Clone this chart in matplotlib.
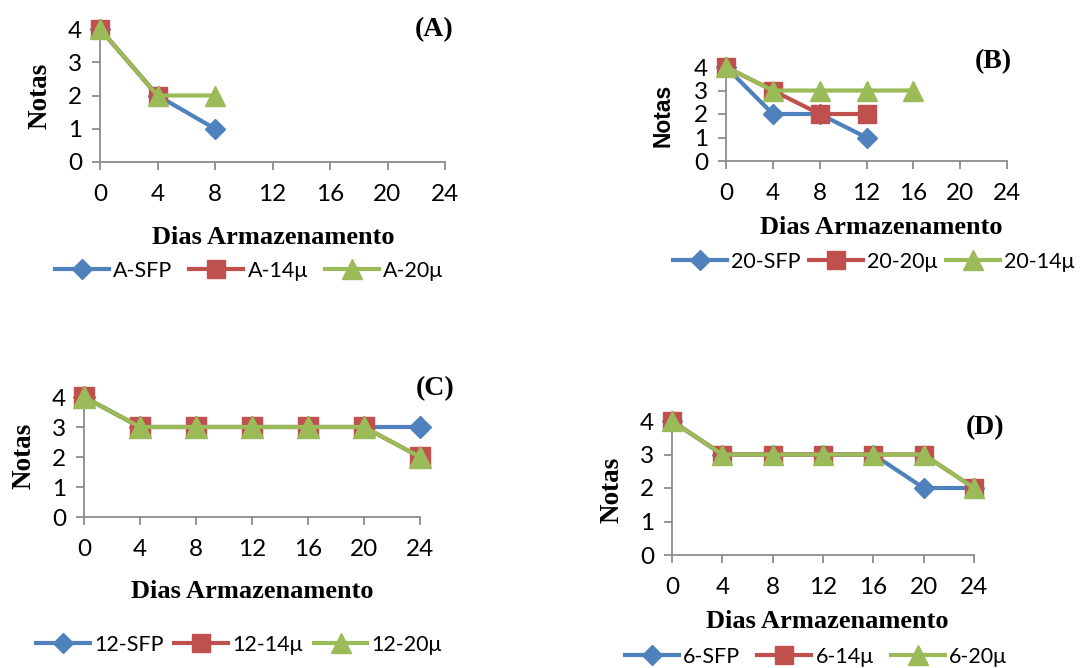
import matplotlib
matplotlib.use("Agg")
import matplotlib.pyplot as plt

# --- dados ---
dias = [0, 4, 8, 12, 16, 20, 24]

a_rotulos = ["A-SFP", "A-14μ", "A-20μ"]
a_sfp = [4, 2, 1]
a_14 = [4, 2]
a_20 = [4, 2, 2]

b_rotulos = ["20-SFP", "20-20μ", "20-14μ"]
b_sfp = [4, 2, 2, 1]
b_20 = [4, 3, 2, 2]
b_14 = [4, 3, 3, 3, 3]

c_rotulos = ["12-SFP", "12-14μ", "12-20μ"]
c_sfp = [4, 3, 3, 3, 3, 3, 3]
c_14 = [4, 3, 3, 3, 3, 3, 2]
c_20 = [4, 3, 3, 3, 3, 3, 2]

d_rotulos = ["6-SFP", "6-14μ", "6-20μ"]
d_sfp = [4, 3, 3, 3, 3, 2, 2]
d_14 = [4, 3, 3, 3, 3, 3, 2]
d_20 = [4, 3, 3, 3, 3, 3, 2]

cores = ["#4F81BD", "#C0504D", "#9BBB59"]
marcadores = ["D", "s", "^"]
tam_marc = [10, 13, 14]

W, H = 1082, 668
fig = plt.figure(figsize=(W / 100, H / 100), dpi=100)

SERIF = "Liberation Serif"
SANS = "Lato"


def fx(px):
    return px / W


def fy(py):
    return 1 - py / H


def painel(box, series, rotulos, letra, letra_xy, xlab_xy, ylab_xy, leg_xy,
           ylab_sans=False, escala=1.0, esp_col=0.8):
    x0, y0, x1, y1 = box  # pixels: x do 0, y do 0, x do 24, y do 4
    ax = fig.add_axes([fx(x0), fy(y0), fx(x1 - x0), (y0 - y1) / H])
    for i, (serie, rot) in enumerate(zip(series, rotulos)):
        ax.plot(dias[:len(serie)], serie, color=cores[i], lw=3,
                marker=marcadores[i], ms=tam_marc[i] * escala, label=rot,
                clip_on=False, zorder=3 + i)
    ax.set_xlim(0, 24)
    ax.set_ylim(0, 4)
    ax.set_xticks(dias)
    ax.set_yticks([0, 1, 2, 3, 4])
    for s in ["top", "right"]:
        ax.spines[s].set_visible(False)
    for s in ["left", "bottom"]:
        ax.spines[s].set_color("#8C8C8C")
        ax.spines[s].set_linewidth(1.3)
    ax.tick_params(axis="both", colors="#8C8C8C", width=1.3, length=6,
                   labelcolor="black", labelsize=17.5)
    ax.tick_params(axis="x", pad=10)
    ax.tick_params(axis="y", pad=7)
    for t in ax.get_xticklabels() + ax.get_yticklabels():
        t.set_fontfamily(SANS)

    fig.text(fx(letra_xy[0]), fy(letra_xy[1]), letra, family=SERIF,
             weight="bold", fontsize=20, ha="center", va="center")
    fig.text(fx(xlab_xy[0]), fy(xlab_xy[1]), "Dias Armazenamento",
             family=SERIF, weight="bold", fontsize=19, ha="center",
             va="center")
    if ylab_sans:
        fig.text(fx(ylab_xy[0]), fy(ylab_xy[1]), "Notas", family="Liberation Sans",
                 weight="bold", fontsize=16.5, ha="center", va="center",
                 rotation=90)
    else:
        fig.text(fx(ylab_xy[0]), fy(ylab_xy[1]), "Notas", family=SERIF,
                 weight="bold", fontsize=19.5, ha="center", va="center",
                 rotation=90)
    leg = fig.legend(*ax.get_legend_handles_labels(), loc="center",
                     bbox_to_anchor=(fx(leg_xy[0]), fy(leg_xy[1])), ncol=3,
                     frameon=False, numpoints=1, handlelength=2.5,
                     handletextpad=0.2, columnspacing=esp_col,
                     prop={"family": SANS, "size": 15.5})
    for h in leg.legend_handles:
        h.set_markersize(h.get_markersize() / escala)
    return ax


painel((100, 162, 445, 29), [a_sfp, a_14, a_20], a_rotulos, "(A)",
       (434, 30), (273, 237), (40, 96), (249, 271))
painel((726, 161, 1007, 67), [b_sfp, b_20, b_14], b_rotulos, "(B)",
       (993, 62), (881, 228), (663, 115), (874, 262), ylab_sans=True,
       esp_col=0.4)
painel((84, 517, 420, 397), [c_sfp, c_14, c_20], c_rotulos, "(C)",
       (435, 389), (252, 591), (24, 456), (239, 645), escala=1.15,
       esp_col=0.5)
painel((672, 555, 974, 421), [d_sfp, d_14, d_20], d_rotulos, "(D)",
       (985, 428), (827, 622), (612, 490), (816, 657))

fig.savefig("out.png", dpi=100)
